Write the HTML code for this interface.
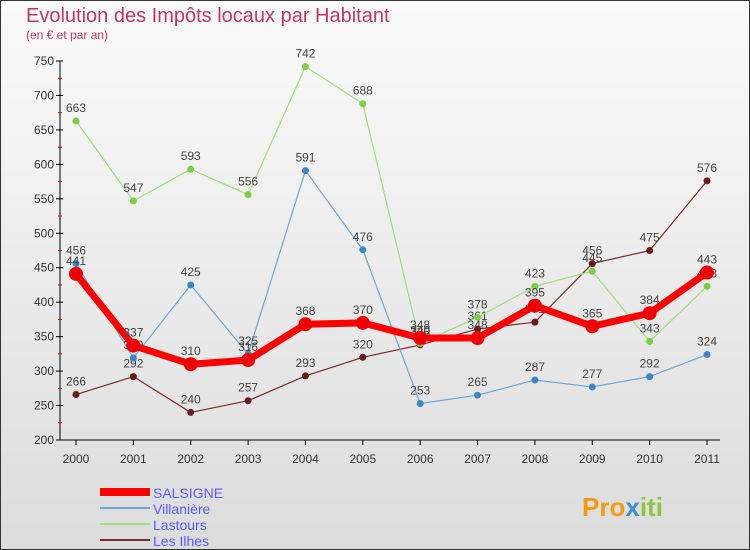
<!DOCTYPE html>
<html><head><meta charset="utf-8"><style>
body{margin:0;width:750px;height:550px;overflow:hidden;font-family:"Liberation Sans",sans-serif}
svg{display:block}
</style></head><body>
<svg width="750" height="550" id="c">
<defs><linearGradient id="bg" x1="0" y1="0" x2="0" y2="1"><stop offset="0" stop-color="#fafafa"/><stop offset="1" stop-color="#dcdcdc"/></linearGradient></defs>
<rect x="0.5" y="0.5" width="749" height="549" fill="url(#bg)" stroke="#333"/>
<text x="26" y="22" font-size="20" fill="#c0385f">Evolution des Impôts locaux par Habitant</text>
<text x="26" y="39" font-size="12" fill="#c0385f">(en € et par an)</text>
<g id="axes"></g><g id="series"></g><g id="legend"></g>
<text x="582" y="516" font-size="26" font-weight="bold" fill="#f39c12">Pro<tspan fill="#3a8fd6">x</tspan><tspan fill="#8cc63f">iti</tspan></text>
</svg>
<script>
const years=[2000,2001,2002,2003,2004,2005,2006,2007,2008,2009,2010,2011];
const yTicks=[200,250,300,350,400,450,500,550,600,650,700,750];
const salsigne=[441,337,310,316,368,370,348,348,395,365,384,443];
const villaniere=[456,319,425,325,591,476,253,265,287,277,292,324];
const lastours=[663,547,593,556,742,688,340,378,423,445,343,423];
const lesIlhes=[266,292,240,257,293,320,338,361,371,456,475,576];
const NS="http://www.w3.org/2000/svg";
const X=i=>76+i*(707-76)/11;
const Y=v=>440-(v-200)*(440-61)/550;
function mk(t,a,p){const e=document.createElementNS(NS,t);for(const k in a)e.setAttribute(k,a[k]);(p||document.getElementById('series')).appendChild(e);return e;}
const ax=document.getElementById('axes');
let e=mk('line',{x1:60,y1:61,x2:60,y2:440,stroke:'#000'},ax);


e=mk('line',{x1:60,y1:440,x2:720,y2:440,stroke:'#000'},ax);


yTicks.forEach(v=>{mk('line',{x1:56,y1:Y(v),x2:63,y2:Y(v),stroke:'#000'},ax);
 if(v<750)mk('line',{x1:58,y1:Y(v+25),x2:62,y2:Y(v+25),stroke:'#d00'},ax);
 const t=mk('text',{x:54,y:Y(v)+4,'font-size':12,fill:'#333','text-anchor':'end'},ax);t.textContent=v;
 
 });
years.forEach((y,i)=>{mk('line',{x1:X(i),y1:440,x2:X(i),y2:445,stroke:'#000'},ax);
 const t=mk('text',{x:X(i),y:463,'font-size':12,fill:'#333','text-anchor':'middle'},ax);t.textContent=y;
 
 });
function series(d,col,w,r,name,dot){
 const p=mk('polyline',{points:d.map((v,i)=>X(i)+','+Y(v)).join(' '),fill:'none',stroke:col,'stroke-width':w,'stroke-linejoin':'round'});
 
 
 d.forEach((v,i)=>{const c=mk('circle',{cx:X(i),cy:Y(v),r:r,fill:dot||col});
 
 
 const t=mk('text',{x:X(i),y:Y(v)-9,'font-size':12,fill:'#444','text-anchor':'middle'});t.textContent=v;
 
 });
}
series(lesIlhes,'#7a2a2a',1.2,3.5,'les-ilhes','#6a1a1a');
series(lastours,'#9ee07a',1.2,3.5,'lastours','#7ccc44');
series(villaniere,'#6aa6d8',1.2,3.5,'villaniere','#3a86c8');
series(salsigne,'#ff0000',7,7,'salsigne','#ee0000');
const lg=document.getElementById('legend');
[['SALSIGNE','#ff0000',8],['Villanière','#6aa6d8',2],['Lastours','#9ee07a',2],['Les Ilhes','#7a2a2a',2]].forEach((s,i)=>{
 const y=492+i*16;
 const l=mk('line',{x1:100,y1:y,x2:150,y2:y,stroke:s[1],'stroke-width':s[2]},lg);
 
 
 const t=mk('text',{x:153,y:y+6,'font-size':14,fill:'#5a5aff'},lg);t.textContent=s[0];
 
 
});
</script>
</body></html>
